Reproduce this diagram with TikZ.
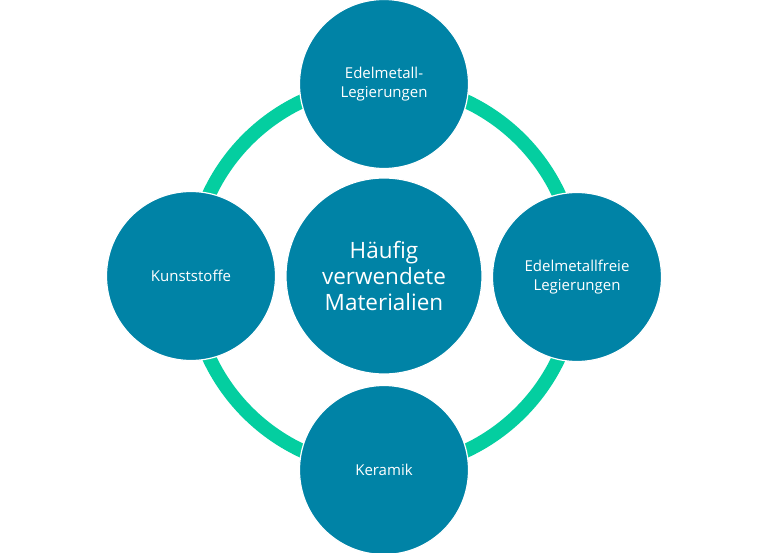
\documentclass[tikz,border=0pt]{standalone}
\usepackage{fontspec}
\setmainfont{Open Sans}
\definecolor{circ}{RGB}{0,131,166}
\definecolor{ring}{RGB}{4,206,160}
\begin{document}
\begin{tikzpicture}[x=1pt,y=-1pt,
  sat/.style={circle,fill=circ,draw=white,line width=1.2pt,minimum size=169pt,inner sep=0pt,
    text=white,align=center,font=\fontsize{15}{19.5}\selectfont},
  hub/.style={circle,fill=circ,draw=white,line width=1.2pt,minimum size=196pt,inner sep=0pt,
    text=white,align=center,font=\fontsize{22.5}{26}\selectfont}]
\useasboundingbox (0,0) rectangle (768,553);
\coordinate (c) at (384,276);
\draw[ring,line width=14pt] (c) circle[radius=193];
\node[hub] (m) at (c) {Häufig\\verwendete\\Materialien};
\node[sat] (t) at (384,84) {Edelmetall-\\Legierungen};
\node[sat] (r) at (577,277) {Edelmetallfreie\\Legierungen};
\node[sat] (b) at (384,470) {Keramik};
\node[sat] (l) at (191,276) {Kunststoffe};
\end{tikzpicture}
\end{document}
